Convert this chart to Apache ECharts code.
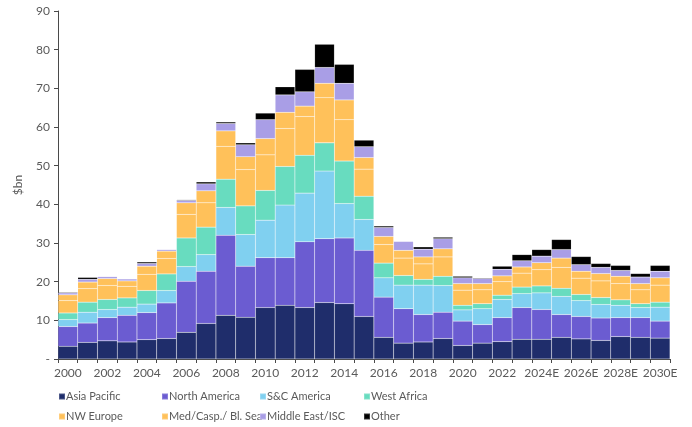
<!DOCTYPE html>
<html>
<head>
<meta charset="utf-8">
<script src="https://cdn.jsdelivr.net/npm/echarts@6/dist/echarts.min.js"></script>
<style>
  html, body { margin: 0; padding: 0; background: #ffffff; }
  #chart { width: 692px; height: 427px; }
</style>
</head>
<body>
<div id="chart"></div>
<script>
// Years on the category axis
const years = ['2000','2001','2002','2003','2004','2005','2006','2007','2008','2009',
  '2010','2011','2012','2013','2014','2015','2016','2017','2018','2019',
  '2020','2021','2022','2023','2024E','2025E','2026E','2027E','2028E','2029E','2030E'];

// Spend by region, $bn
const asiaPacific  = [3.3,4.3,4.7,4.4,5.0,5.3,6.9,9.2,11.3,10.8,13.3,13.9,13.3,14.6,14.3,11.0,5.6,4.1,4.4,5.3,3.5,4.1,4.5,5.1,5.1,5.6,5.2,4.8,5.8,5.6,5.4];
const northAmerica = [5.1,5.0,6.0,6.9,7.0,9.2,13.2,13.5,20.7,13.2,12.9,12.3,17.0,16.5,17.0,17.1,10.4,8.9,7.1,6.8,6.3,4.8,6.2,8.2,7.7,5.9,5.8,5.8,4.9,5.1,4.4];
const scAmerica    = [1.8,2.8,2.1,2.1,2.2,3.2,3.8,4.3,7.2,8.2,9.7,13.6,12.6,17.5,8.9,8.0,5.0,6.1,7.6,6.9,2.9,4.1,4.7,3.6,4.3,4.7,4.1,3.5,3.2,2.6,3.6];
const westAfrica   = [1.7,2.6,2.6,2.4,3.5,4.3,7.4,7.1,7.3,7.4,7.7,10.0,9.8,7.3,11.0,6.0,3.8,2.5,1.5,2.4,1.2,1.3,1.1,1.7,1.8,2.1,1.6,1.8,1.4,1.0,1.3];
const nwEurope     = [3.2,3.5,3.6,3.0,4.2,4.0,6.1,6.3,8.5,9.4,9.2,9.8,10.0,11.7,10.7,7.0,4.8,4.5,4.0,5.0,3.9,3.6,3.5,3.6,4.2,5.4,4.2,4.3,4.2,3.6,4.4];
const medCaspBlSea = [1.5,1.7,1.8,1.4,2.1,1.9,3.0,3.1,4.0,3.3,4.2,4.2,2.7,3.7,5.1,3.0,2.1,2.0,1.8,2.1,1.7,1.6,1.5,1.6,1.8,2.4,1.8,1.9,1.9,1.6,1.9];
const middleEast   = [0.5,0.7,0.5,0.5,0.7,0.4,0.6,1.8,1.9,3.1,4.9,4.5,3.7,4.1,4.3,2.8,2.3,2.3,2.0,2.6,1.5,1.3,1.7,1.6,1.7,2.2,1.7,1.6,1.5,1.7,1.7];
const other        = [0.2,0.5,0.1,0.1,0.4,0.1,0.2,0.5,0.4,0.5,1.7,2.1,5.8,6.0,4.9,1.7,0.4,0.1,0.6,0.4,0.4,0.2,0.8,1.6,1.7,2.6,2.1,1.0,1.3,0.9,1.5];

const seriesDefs = [
  { name: 'Asia Pacific',        data: asiaPacific,  color: '#1f2d6b' },
  { name: 'North America',       data: northAmerica, color: '#6b5cd1' },
  { name: 'S&C America',         data: scAmerica,    color: '#80d0f0' },
  { name: 'West Africa',         data: westAfrica,   color: '#68dcbf' },
  { name: 'NW Europe',           data: nwEurope,     color: '#ffc15a' },
  { name: 'Med/Casp./ Bl. Sea',  data: medCaspBlSea, color: '#ffc15a' },
  { name: 'Middle East/ISC',     data: middleEast,   color: '#a99ee6' },
  { name: 'Other',               data: other,        color: '#000000' }
];

const FONT = 'Lato';
const TEXT_GREY = '#5a5a5a';
const AXIS_GREY = '#4a4a4a';

// Legend grid: four columns, two rows (one legend per entry so they line up)
const legendCols = [53, 156, 254, 358];
const legendRows = [386, 406];

const legends = seriesDefs.map((s, i) => ({
  data: [s.name],
  left: legendCols[i % 4],
  top: legendRows[Math.floor(i / 4)],
  itemWidth: 6,
  itemHeight: 6,
  icon: 'rect',
  selectedMode: false,
  textStyle: { fontFamily: FONT, fontSize: 11, color: TEXT_GREY, padding: [0, 0, 0, -4] }
}));

const chart = echarts.init(document.getElementById('chart'), null, { renderer: 'canvas' });

chart.setOption({
  animation: false,
  backgroundColor: '#ffffff',
  grid: { left: 58, right: 22, top: 11, bottom: 68, containLabel: false },
  legend: legends,
  xAxis: {
    type: 'category',
    data: years,
    boundaryGap: true,
    axisLine: { lineStyle: { color: AXIS_GREY, width: 1 } },
    axisTick: { show: true, interval: 0, length: 4, lineStyle: { color: AXIS_GREY } },
    axisLabel: { interval: 1, color: TEXT_GREY, fontFamily: FONT, fontSize: 12, margin: 8 },
    splitLine: { show: false }
  },
  yAxis: {
    type: 'value',
    min: 0,
    max: 90,
    interval: 10,
    name: '$bn',
    nameLocation: 'middle',
    nameGap: 34,
    nameRotate: 90,
    nameTextStyle: { color: TEXT_GREY, fontFamily: FONT, fontSize: 12 },
    axisLine: { show: true, lineStyle: { color: AXIS_GREY, width: 1 } },
    axisTick: { show: true, length: 4, lineStyle: { color: AXIS_GREY } },
    axisLabel: {
      color: TEXT_GREY, fontFamily: FONT, fontSize: 12, margin: 8,
      formatter: v => (v === 0 ? '-' : String(v))
    },
    splitLine: { show: false }
  },
  series: seriesDefs.map(s => ({
    name: s.name,
    type: 'bar',
    stack: 'total',
    data: s.data,
    barCategoryGap: '0%',
    itemStyle: { color: s.color, borderColor: 'rgba(255,255,255,0.2)', borderWidth: 0.5 },
    emphasis: { disabled: true }
  }))
});
</script>
</body>
</html>
